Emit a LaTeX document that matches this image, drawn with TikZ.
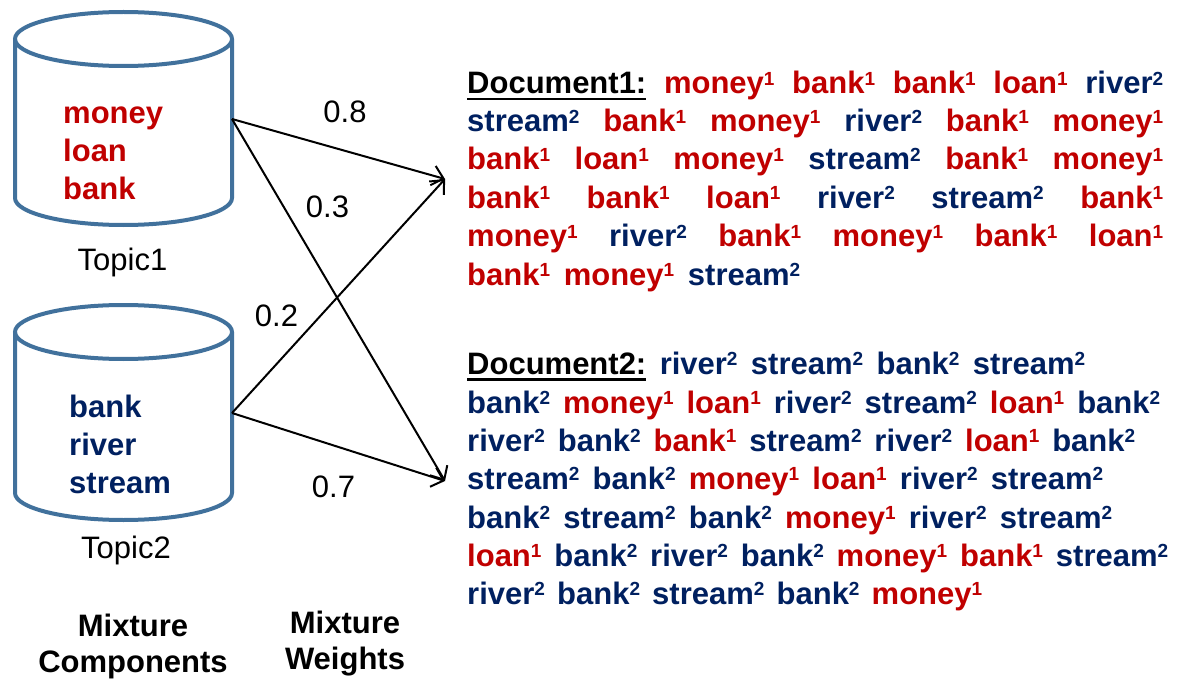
\documentclass[tikz,border=0pt]{standalone}
\usepackage{fontspec}
\setmainfont{Liberation Sans}
\usetikzlibrary{arrows.meta}
\definecolor{wred}{HTML}{C00000}
\definecolor{wblue}{HTML}{002060}
\definecolor{cyl}{HTML}{41719C}
\newcommand\supx[1]{\raisebox{8.5pt}{\fontsize{19}{19}\selectfont #1}}
\newcommand\wa[1]{\textcolor{wred}{#1\supx{1}}}
\newcommand\wb[1]{\textcolor{wblue}{#1\supx{2}}}
\newsavebox\ulbox
\newcommand\ulx[1]{\sbox\ulbox{#1}\rlap{\rule[-6.5pt]{\wd\ulbox}{2.5pt}}\usebox\ulbox}
\newcommand\jl[2]{\makebox[#1pt][s]{#2}}
\begin{document}
\begin{tikzpicture}[x=1pt,y=-1pt,
  cylline/.style={draw=cyl,line width=4pt},
  big/.style={font=\fontsize{31}{38}\selectfont},
  bigb/.style={font=\fontsize{31}{38}\selectfont\bfseries},
  words/.style={bigb,anchor=base west,inner sep=0pt,align=left},
  docline/.style={bigb,anchor=base west,inner sep=0pt},
  weight/.style={big,anchor=base,inner sep=0pt},
  caption/.style={font=\fontsize{31}{36}\selectfont\bfseries,anchor=base,inner sep=0pt,align=center},
  arr/.style={line width=2pt,-{Straight Barb[length=11pt,width=20pt,line width=2pt]}}]
\useasboundingbox (0,0) rectangle (1179,682);
% cylinders
\draw[cylline] (123.5,39) ellipse [x radius=108.5,y radius=27];
\draw[cylline] (15,39) -- (15,198) arc[start angle=180,end angle=0,x radius=108.5,y radius=27] -- (232,39);
\draw[cylline] (123.5,332) ellipse [x radius=108.5,y radius=27];
\draw[cylline] (15,332) -- (15,493) arc[start angle=180,end angle=0,x radius=108.5,y radius=27] -- (232,332);
% topic words (base anchor = last line)
\node[words,text=wred] (w1) at (63,200) {money\\loan\\bank};
\node[words,text=wblue] (w2) at (69,493) {bank\\river\\stream};
\node[weight] (topic1) at (122.5,270) {Topic1};
\node[weight] (topic2) at (126,558) {Topic2};
% connectors
\coordinate (t1) at (232,119);
\coordinate (t2) at (232,413);
\coordinate (d1) at (445,179);
\coordinate (d2) at (445,481);
\draw[arr] (t1) -- (d1);
\draw[arr] (t1) -- (d2);
\draw[arr] (t2) -- (d1);
\draw[arr] (t2) -- (d2);
\node[weight] (p08) at (345,123) {0.8};
\node[weight] (p03) at (327.5,218) {0.3};
\node[weight] (p02) at (276.5,326) {0.2};
\node[weight] (p07) at (333.5,497) {0.7};
% captions (base anchor = last line)
\node[caption] (mc) at (133,672) {Mixture\\Components};
\node[caption] (mw) at (345,669) {Mixture\\Weights};
% document 1
\node[docline] (a1) at (467,94) {\jl{696}{\ulx{Document1:} \wa{money} \wa{bank} \wa{bank} \wa{loan} \wb{river}}};
\node[docline] (a2) at (467,132) {\jl{696}{\wb{stream} \wa{bank} \wa{money} \wb{river} \wa{bank} \wa{money}}};
\node[docline] (a3) at (467,170) {\jl{696}{\wa{bank} \wa{loan} \wa{money} \wb{stream} \wa{bank} \wa{money}}};
\node[docline] (a4) at (467,208) {\jl{696}{\wa{bank} \wa{bank} \wa{loan} \wb{river} \wb{stream} \wa{bank}}};
\node[docline] (a5) at (467,247) {\jl{696}{\wa{money} \wb{river} \wa{bank} \wa{money} \wa{bank} \wa{loan}}};
\node[docline] (a6) at (467,285) {\jl{333}{\wa{bank} \wa{money} \wb{stream}}};
% document 2
\node[docline] (b1) at (467,374) {\jl{618}{\ulx{Document2:} \wb{river} \wb{stream} \wb{bank} \wb{stream}}};
\node[docline] (b2) at (467,413) {\jl{693}{\wb{bank} \wa{money} \wa{loan} \wb{river} \wb{stream} \wa{loan} \wb{bank}}};
\node[docline] (b3) at (467,451) {\jl{668}{\wb{river} \wb{bank} \wa{bank} \wb{stream} \wb{river} \wa{loan} \wb{bank}}};
\node[docline] (b4) at (467,489) {\jl{636}{\wb{stream} \wb{bank} \wa{money} \wa{loan} \wb{river} \wb{stream}}};
\node[docline] (b5) at (467,528) {\jl{645}{\wb{bank} \wb{stream} \wb{bank} \wa{money} \wb{river} \wb{stream}}};
\node[docline] (b6) at (467,566) {\jl{701}{\wa{loan} \wb{bank} \wb{river} \wb{bank} \wa{money} \wa{bank} \wb{stream}}};
\node[docline] (b7) at (467,604) {\jl{515}{\wb{river} \wb{bank} \wb{stream} \wb{bank} \wa{money}}};
\end{tikzpicture}
\end{document}
